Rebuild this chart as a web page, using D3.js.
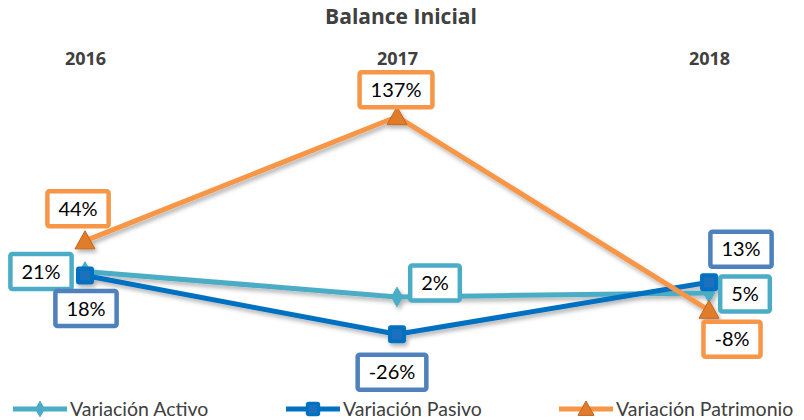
<!DOCTYPE html>
<html>
<head>
<meta charset="utf-8">
<script src="https://cdn.jsdelivr.net/npm/d3@7"></script>
<style>
  body { margin: 0; background: #fff; }
  svg { font-family: "Open Sans", "Noto Sans", sans-serif; }
</style>
</head>
<body>
<svg id="grafico" width="804" height="420"></svg>
<script>
// datos del grafico
var anios = ["2016", "2017", "2018"];
var activo = [21, 2, 5];
var pasivo = [18, -26, 13];
var patrimonio = [44, 137, -8];
var nombres = ["Variación Activo", "Variación Pasivo", "Variación Patrimonio"];

var svg = d3.select("#grafico");
var width = 804, height = 420;

// escalas
var escalaX = d3.scalePoint().domain(anios).range([85, 709]);
var escalaY = d3.scaleLinear().domain([-40, 160]).range([353, 86]);

// sombra de los trazos
var defs = svg.append("defs");
defs.append("filter").attr("id", "sombra")
    .attr("x", "-20%").attr("y", "-20%").attr("width", "140%").attr("height", "140%")
  .append("feDropShadow")
    .attr("dx", 2).attr("dy", 3).attr("stdDeviation", 2)
    .attr("flood-color", "#000").attr("flood-opacity", 0.3);

// titulo
svg.append("text")
    .attr("x", 401).attr("y", 24)
    .attr("text-anchor", "middle")
    .style("font-weight", "bold").style("font-size", "21px").style("fill", "#404040")
    .text("Balance Inicial");

// eje de categorias arriba
var ejeX = d3.axisTop(escalaX).tickSize(0).tickPadding(0);
var gEje = svg.append("g").attr("transform", "translate(0,65)").call(ejeX);
gEje.select(".domain").remove();
gEje.selectAll("text")
    .style("font-family", "'Open Sans', 'Noto Sans', sans-serif")
    .style("font-weight", "bold").style("font-size", "18px").style("fill", "#404040");

// series
var series = [
  { nombre: nombres[0], valores: activo, color: "#4BACC6", borde: "#4BACC6", marca: "diamante",
    desp: [[-44, 0], [38, -14], [36, 1]] },
  { nombre: nombres[1], valores: pasivo, color: "#0070C0", borde: "#4F81BD", marca: "cuadro",
    desp: [[1, 33], [-5, 38], [32, -33]] },
  { nombre: nombres[2], valores: patrimonio, color: "#F79646", borde: "#F79646", marca: "triangulo",
    desp: [[-7, -32], [-1, -27], [23, 29]] }
];

var generarLinea = d3.line()
    .x(function (d, i) { return escalaX(anios[i]); })
    .y(function (d) { return escalaY(d); });

function dibujarMarca(g, tipo, color, k) {
  k = k || 1;
  if (tipo == "diamante") {
    g.append("path").attr("d", d3.symbol().type(d3.symbolDiamond).size(110 * k * k)())
      .attr("fill", color).attr("stroke", color).attr("stroke-width", 1);
  } else if (tipo == "cuadro") {
    g.append("rect").attr("x", -9 * k).attr("y", -9 * k).attr("width", 18 * k).attr("height", 18 * k)
      .attr("rx", 3).attr("fill", color);
    g.append("rect").attr("x", -5 * k).attr("y", -5 * k).attr("width", 10 * k).attr("height", 10 * k)
      .attr("fill", "#3a6fb8").attr("opacity", 0.5);
  } else {
    g.append("path").attr("d", "M0," + (-10 * k) + "L" + (10 * k) + "," + (8 * k) + "L" + (-10 * k) + "," + (8 * k) + "Z")
      .attr("fill", "#E07B2C").attr("stroke", "#C0661E").attr("stroke-width", 1);
  }
}

var gSeries = svg.append("g").attr("filter", "url(#sombra)");
series.forEach(function (s) {
  gSeries.append("path")
    .attr("d", generarLinea(s.valores))
    .attr("fill", "none")
    .attr("stroke", s.color)
    .attr("stroke-width", 5)
    .attr("stroke-linejoin", "round");
});
series.forEach(function (s) {
  s.valores.forEach(function (v, i) {
    var g = gSeries.append("g")
      .attr("transform", "translate(" + escalaX(anios[i]) + "," + escalaY(v) + ")");
    dibujarMarca(g, s.marca, s.color);
  });
});

// etiquetas de datos
series.forEach(function (s) {
  s.valores.forEach(function (v, i) {
    var cx = escalaX(anios[i]) + s.desp[i][0];
    var cy = escalaY(v) + s.desp[i][1];
    var g = svg.append("g").attr("transform", "translate(" + cx + "," + cy + ")");
    var rect = g.append("rect");
    var t = g.append("text")
      .attr("text-anchor", "middle").attr("dy", "0.35em")
      .style("font-size", "20px").style("fill", "#000")
      .style("font-family", "'Lato', 'Open Sans', sans-serif")
      .text(v + "%");
    var bb = t.node().getBBox();
    var w = bb.width + 22, h = 35;
    rect.attr("x", -w / 2).attr("y", -h / 2).attr("width", w).attr("height", h)
      .attr("rx", 2)
      .attr("fill", "#fff").attr("stroke", s.borde).attr("stroke-width", 4.5);
  });
});

// leyenda
var leyX = [13, 286, 559];
series.forEach(function (s, i) {
  var g = svg.append("g").attr("transform", "translate(" + leyX[i] + ",409)");
  g.append("line").attr("x1", 0).attr("x2", 54).attr("y1", 0).attr("y2", 0)
    .attr("stroke", s.color).attr("stroke-width", 5);
  var m = g.append("g").attr("transform", "translate(27,0)");
  dibujarMarca(m, s.marca, s.color, 0.8);
  g.append("text").attr("x", 57).attr("y", 0).attr("dy", "0.35em")
    .style("font-size", "19.5px").style("fill", "#404040")
    .style("font-family", "'Lato', 'Open Sans', sans-serif")
    .text(s.nombre);
});
</script>
</body>
</html>
